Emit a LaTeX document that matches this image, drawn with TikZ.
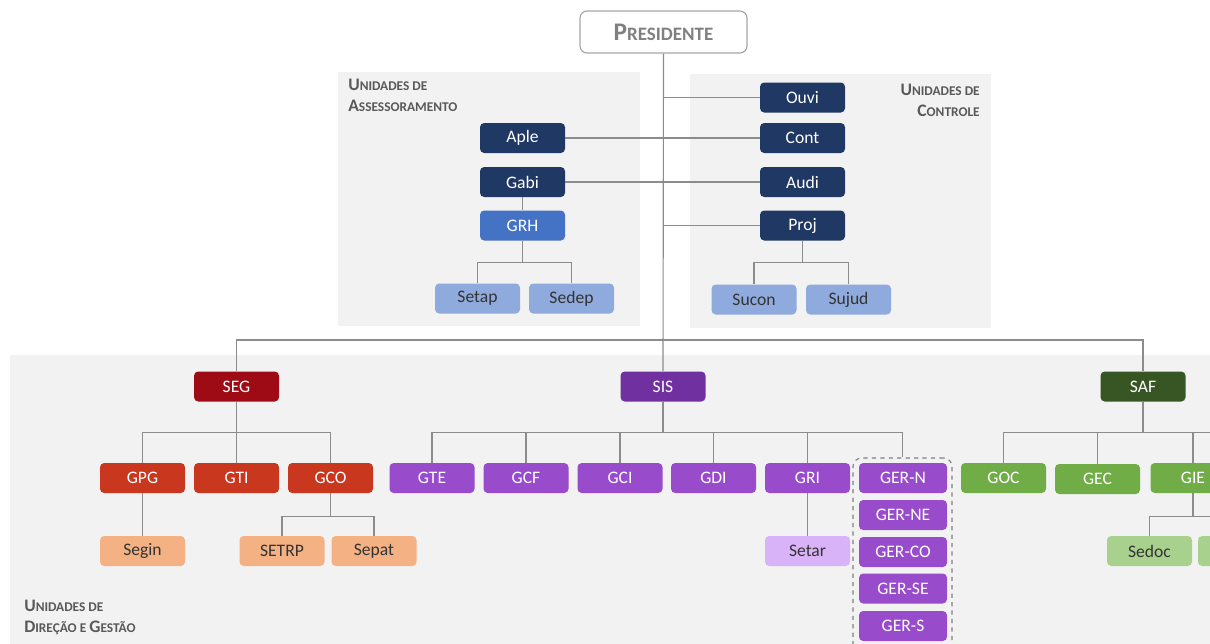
\documentclass[tikz,border=0pt]{standalone}
\usepackage{fontspec}
\setmainfont{Carlito}
\definecolor{panel}{HTML}{F2F2F2}
\definecolor{linkgray}{HTML}{8C8C8C}
\definecolor{navy}{HTML}{203864}
\definecolor{bluemid}{HTML}{4472C4}
\definecolor{bluelight}{HTML}{8FAADC}
\definecolor{segred}{HTML}{9E0B14}
\definecolor{redorange}{HTML}{C8371E}
\definecolor{salmon}{HTML}{F4B183}
\definecolor{sispurple}{HTML}{7030A0}
\definecolor{purple}{HTML}{984CCB}
\definecolor{lavender}{HTML}{D9B3F7}
\definecolor{safgreen}{HTML}{375623}
\definecolor{green}{HTML}{70AD47}
\definecolor{lightgreen}{HTML}{A9D18E}
\definecolor{labelgray}{HTML}{595959}
\newcommand\fsc[1]{{\fontsize{9.5}{11}\selectfont #1}}
\tikzset{
  unit/.style={rounded corners=3pt, minimum width=21.25mm, minimum height=7.5mm,
    inner sep=0pt, text=white, font=\fontsize{12.5}{14}\selectfont},
  darkunit/.style={unit, fill=navy},
  grhunit/.style={unit, fill=bluemid},
  subunit/.style={unit, fill=bluelight, text=black!80},
  segunit/.style={unit, fill=segred},
  redunit/.style={unit, fill=redorange},
  salmonunit/.style={unit, fill=salmon, text=black!80},
  sisunit/.style={unit, fill=sispurple},
  purpleunit/.style={unit, fill=purple},
  gerunit/.style={purpleunit, minimum width=22mm},
  lavunit/.style={unit, fill=lavender, text=black!80},
  safunit/.style={unit, fill=safgreen},
  greenunit/.style={unit, fill=green},
  lgreenunit/.style={unit, fill=lightgreen, text=black!80},
  link/.style={draw=linkgray, line width=0.8pt},
  grouplabel/.style={text=labelgray, font=\bfseries\fontsize{12.5}{14.5}\selectfont, inner sep=0pt}
}
\begin{document}
\begin{tikzpicture}[x=0.25mm,y=-0.25mm]
\useasboundingbox (0,0) rectangle (1210,643);
\clip (0,0) rectangle (1210,643);
\fill [panel] (338,72) rectangle (640,326);
\fill [panel] (690,74) rectangle (991,328);
\fill [panel] (10,355) rectangle (1220,650);

\node [grouplabel, align=left, anchor=north west] (assess) at (348,79) {U\fsc{NIDADES DE}\\A\fsc{SSESSORAMENTO}};
\node [grouplabel, align=right, anchor=north east] (control) at (980,84) {U\fsc{NIDADES DE}\\C\fsc{ONTROLE}};
\node [grouplabel, align=left, anchor=north west] (direcao) at (24,600) {U\fsc{NIDADES DE}\\D\fsc{IREÇÃO E }G\fsc{ESTÃO}};

\node [draw=gray!70, line width=0.8pt, fill=white, rounded corners=5pt, minimum width=41.75mm, minimum height=10.5mm, text=gray, font=\bfseries\fontsize{18}{20}\selectfont] (pres) at (663.5,32) {P\fontsize{13.5}{15}\selectfont RESIDENTE};

\node [darkunit] (aple) at (522.5,138) {Aple};
\node [darkunit] (gabi) at (522.5,182) {Gabi};
\node [grhunit] (grh) at (522.5,225.5) {GRH};
\node [subunit] (setap) at (477.5,298.5) {Setap};
\node [subunit] (sedep) at (571.5,298.5) {Sedep};

\node [darkunit] (ouvi) at (802.5,97.5) {Ouvi};
\node [darkunit] (cont) at (802.5,138) {Cont};
\node [darkunit] (audi) at (802.5,182) {Audi};
\node [darkunit] (proj) at (802.5,225.5) {Proj};
\node [subunit] (sucon) at (754,299.5) {Sucon};
\node [subunit] (sujud) at (848.5,299.5) {Sujud};

\node [segunit] (seg) at (236.5,386.5) {SEG};
\node [sisunit] (sis) at (663,386.5) {SIS};
\node [safunit] (saf) at (1143,386.5) {SAF};

\node [redunit] (gpg) at (142.5,478) {GPG};
\node [redunit] (gti) at (236.5,478) {GTI};
\node [redunit] (gco) at (330.5,478) {GCO};
\node [salmonunit] (segin) at (142.5,551) {Segin};
\node [salmonunit] (setrp) at (282,551) {SETRP};
\node [salmonunit] (sepat) at (374,551) {Sepat};

\node [purpleunit] (gte) at (432,478) {GTE};
\node [purpleunit] (gcf) at (526,478) {GCF};
\node [purpleunit] (gci) at (620,478) {GCI};
\node [purpleunit] (gdi) at (713.5,478) {GDI};
\node [purpleunit] (gri) at (807.5,478) {GRI};
\node [lavunit] (setar) at (807.5,551) {Setar};

\node [draw=gray, dashed, line width=0.8pt, rounded corners=6pt, minimum width=24.75mm, minimum height=50mm] (gerbox) at (902.5,558) {};
\node [gerunit] (gern) at (903,478) {GER-N};
\node [gerunit] (gerne) at (903,515) {GER-NE};
\node [gerunit] (gerco) at (903,552) {GER-CO};
\node [gerunit] (gerse) at (903,588.5) {GER-SE};
\node [gerunit] (gers) at (903,626) {GER-S};

\node [greenunit] (goc) at (1003.5,478) {GOC};
\node [greenunit] (gec) at (1097.5,479) {GEC};
\node [greenunit] (gie) at (1193,478) {GIE};
\node [lgreenunit] (sedoc) at (1149.5,551) {Sedoc};
\node [lgreenunit] (sednext) at (1240.5,551) {};
\coordinate (top) at (663.5,340);
\coordinate (safnext) at (1290,463);

\draw [link] (pres.south) -- (sis.north);
\draw [link] (ouvi.west) -- (ouvi.west -| pres.south);
\draw [link] (proj.west) -- (proj.west -| pres.south);
\draw [link] (aple) -- (cont);
\draw [link] (gabi) -- (audi);
\draw [link] (gabi) -- (grh);
\draw [link] (grh.south) -- ++(0,22) -| (setap.north);
\draw [link] (grh.south) -- ++(0,22) -| (sedep.north);
\draw [link] (proj.south) -- ++(0,22) -| (sucon.north);
\draw [link] (proj.south) -- ++(0,22) -| (sujud.north);
\draw [link] (seg.north) |- (top) -| (saf.north);
\foreach \c in {gpg,gti,gco}
  \draw [link] (seg.south) -- ++(0,31) -| (\c.north);
\draw [link] (gpg) -- (segin);
\draw [link] (gco.south) -- ++(0,23) -| (setrp.north);
\draw [link] (gco.south) -- ++(0,23) -| (sepat.north);
\foreach \c in {gte,gcf,gci,gdi,gri,gerbox}
  \draw [link] (sis.south) -- ++(0,31) -| (\c.north);
\draw [link] (gri) -- (setar);
\foreach \c in {goc,gec,gie,safnext}
  \draw [link] (saf.south) -- ++(0,31) -| (\c);
\draw [link] (gie.south) -- ++(0,23) -| (sedoc.north);
\draw [link] (gie.south) -- ++(0,23) -| (sednext.north);
\end{tikzpicture}
\end{document}
